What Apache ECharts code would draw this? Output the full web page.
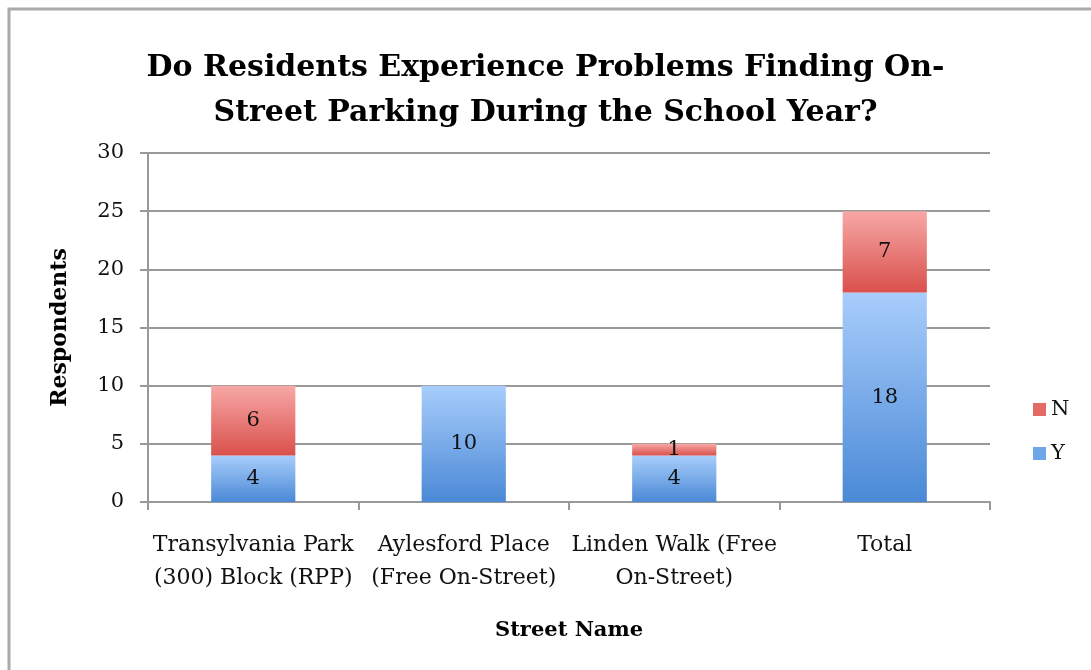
<!DOCTYPE html>
<html>
<head>
<meta charset="utf-8">
<script src="https://cdn.jsdelivr.net/npm/echarts@6/dist/echarts.min.js"></script>
<style>html,body{margin:0;padding:0;background:#fff;}#c{width:1091px;height:670px;}</style>
</head>
<body>
<div id="c"></div>
<script>
const categories = ['Transylvania Park\n(300) Block (RPP)', 'Aylesford Place\n(Free On-Street)', 'Linden Walk (Free\nOn-Street)', 'Total'];
const yValues = [4, 10, 4, 18];
const nValues = [6, null, 1, 7];
const yTicks = [0, 5, 10, 15, 20, 25, 30];

const FONT = '"DejaVu Serif", "Liberation Serif", serif';
const chart = echarts.init(document.getElementById('c'), null, {renderer: 'canvas'});

function grad(top, bottom) {
  return new echarts.graphic.LinearGradient(0, 0, 0, 1, [
    {offset: 0, color: top}, {offset: 1, color: bottom}
  ]);
}

const labelStyle = {show: true, position: 'inside', color: '#111', fontFamily: FONT, fontSize: 21,
  formatter: p => (p.value == null ? '' : String(p.value))};

chart.setOption({
  animation: false,
  backgroundColor: '#fff',
  graphic: [{
    type: 'rect', shape: {x: 9, y: 9, width: 1200, height: 800},
    style: {fill: 'none', stroke: '#aaaaaa', lineWidth: 3}, silent: true, z: 0
  }],
  title: {
    text: 'Do Residents Experience Problems Finding On-\nStreet Parking During the School Year?',
    left: 'center', top: 41,
    textStyle: {fontFamily: FONT, fontWeight: 'bold', fontSize: 30, lineHeight: 45, color: '#000'}
  },
  legend: {
    data: [
      {name: 'N', itemStyle: {color: '#e46a66'}},
      {name: 'Y', itemStyle: {color: '#6ea6e8'}}
    ],
    orient: 'vertical', left: 1028, top: 394, itemGap: 23,
    itemWidth: 13, itemHeight: 13, icon: 'rect',
    textStyle: {fontFamily: FONT, fontSize: 21, color: '#111', padding: [2, 0, 0, 0]}
  },
  grid: {left: 148, right: 101, top: 153, bottom: 168},
  xAxis: {
    type: 'category', data: categories,
    name: 'Street Name', nameLocation: 'middle', nameGap: 118,
    nameTextStyle: {fontFamily: FONT, fontWeight: 'bold', fontSize: 21, color: '#000'},
    axisLine: {lineStyle: {color: '#999', width: 2}},
    axisTick: {show: true, length: 8, interval: 0, lineStyle: {color: '#999', width: 2}},
    axisLabel: {interval: 0, fontFamily: FONT, fontSize: 22, color: '#111', lineHeight: 33, margin: 27}
  },
  yAxis: {
    type: 'value', min: 0, max: 30, interval: 5,
    name: 'Respondents', nameLocation: 'middle', nameGap: 77, nameRotate: 90,
    nameTextStyle: {fontFamily: FONT, fontWeight: 'bold', fontSize: 22, color: '#000'},
    axisLine: {show: true, lineStyle: {color: '#999', width: 2}},
    axisTick: {show: true, length: 8, lineStyle: {color: '#999', width: 2}},
    axisLabel: {fontFamily: FONT, fontSize: 21, color: '#111', margin: 24,
      formatter: v => yTicks.includes(v) ? String(v) : ''},
    splitLine: {show: true, lineStyle: {color: '#999', width: 2}}
  },
  series: [
    {
      name: 'Y', type: 'bar', stack: 's', data: yValues, barWidth: '40%',
      itemStyle: {color: grad('#a8cdfb', '#4a89d6')},
      label: labelStyle
    },
    {
      name: 'N', type: 'bar', stack: 's', data: nValues, barWidth: '40%',
      itemStyle: {color: grad('#f7a8a6', '#d9504c')},
      label: labelStyle
    }
  ]
});
</script>
</body>
</html>
